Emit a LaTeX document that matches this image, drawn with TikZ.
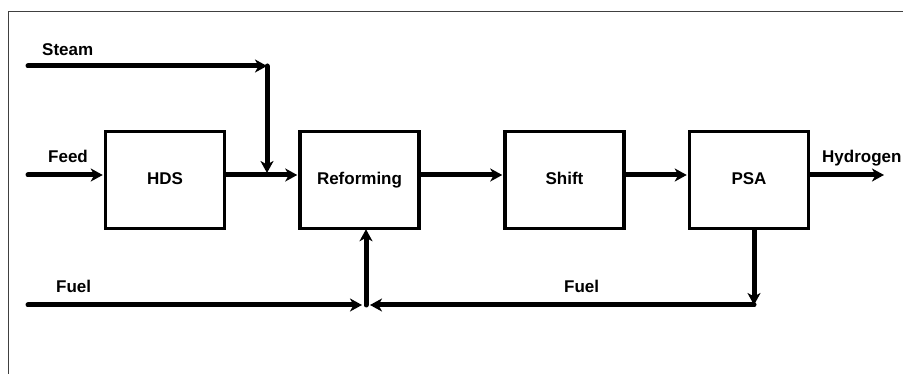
\documentclass[tikz,border=0pt]{standalone}
\usepackage{fontspec}
\setmainfont{Liberation Sans}
\usetikzlibrary{arrows.meta}
\begin{document}
\begin{tikzpicture}[x=1pt,y=-1pt,
  unit/.style={draw, line width=3.5pt, minimum width=119pt, minimum height=97pt, inner sep=0pt, text height=13pt, text depth=4pt, font=\fontsize{17}{20}\selectfont\bfseries},
  lbl/.style={anchor=base west, inner sep=0pt, font=\fontsize{17}{20}\selectfont\bfseries},
  flow/.style={line width=5pt, line cap=round, -{Stealth[length=12pt,width=13pt,inset=3.5pt]}},
  plain/.style={line width=5pt, line cap=round}]
\useasboundingbox (0,0) rectangle (903,374);
\fill[white] (0,0) rectangle (903,374);
\draw[line width=1pt, black!75] (8,374) -- (8,12) -- (903,12);
% units
\node[unit] (hds) at (165,180) {HDS};
\node[unit] (ref) at (359.5,180) {Reforming};
\node[unit] (shift) at (564.5,180) {Shift};
\node[unit] (psa) at (749,180) {PSA};
% labels
\node[lbl] (tsteam) at (42,56) {Steam};
\node[lbl] (tfeed) at (48,163) {Feed};
\node[lbl] (tfuel1) at (56,293) {Fuel};
\node[lbl] (tfuel2) at (564,293) {Fuel};
\node[lbl] (th2) at (822,163) {Hydrogen};
% coordinates
\coordinate (row) at (0,175);
\coordinate (steamin) at (28,66);
\coordinate (steamc) at (267,66);
\coordinate (steamj) at (267,173);
\coordinate (feedin) at (28,175);
\coordinate (h2out) at (884,175);
\coordinate (fuelin) at (28,305);
\coordinate (fuelj) at (366,305);
\coordinate (fuell) at (362,305);
\coordinate (fuelr) at (370,305);
\coordinate (psac) at (754,305);
% connectors
\draw[flow] (steamin) -- (steamc);
\draw[flow] (steamc) -- (steamj);
\draw[flow] (feedin) -- ([xshift=-1pt]hds.west |- row);
\draw[flow] (hds.east |- row) -- ([xshift=-1pt]ref.west |- row);
\draw[flow] (ref.east |- row) -- ([xshift=-1pt]shift.west |- row);
\draw[flow] (shift.east |- row) -- ([xshift=-1pt]psa.west |- row);
\draw[flow] (psa.east |- row) -- (h2out);
\draw[flow] (psa.south -| psac) -- (psac);
\draw[flow] (psac) -- (fuelr);
\draw[flow] (fuelin) -- (fuell);
\draw[flow] (fuelj) -- ([yshift=1pt]ref.south -| fuelj);
\end{tikzpicture}
\end{document}
